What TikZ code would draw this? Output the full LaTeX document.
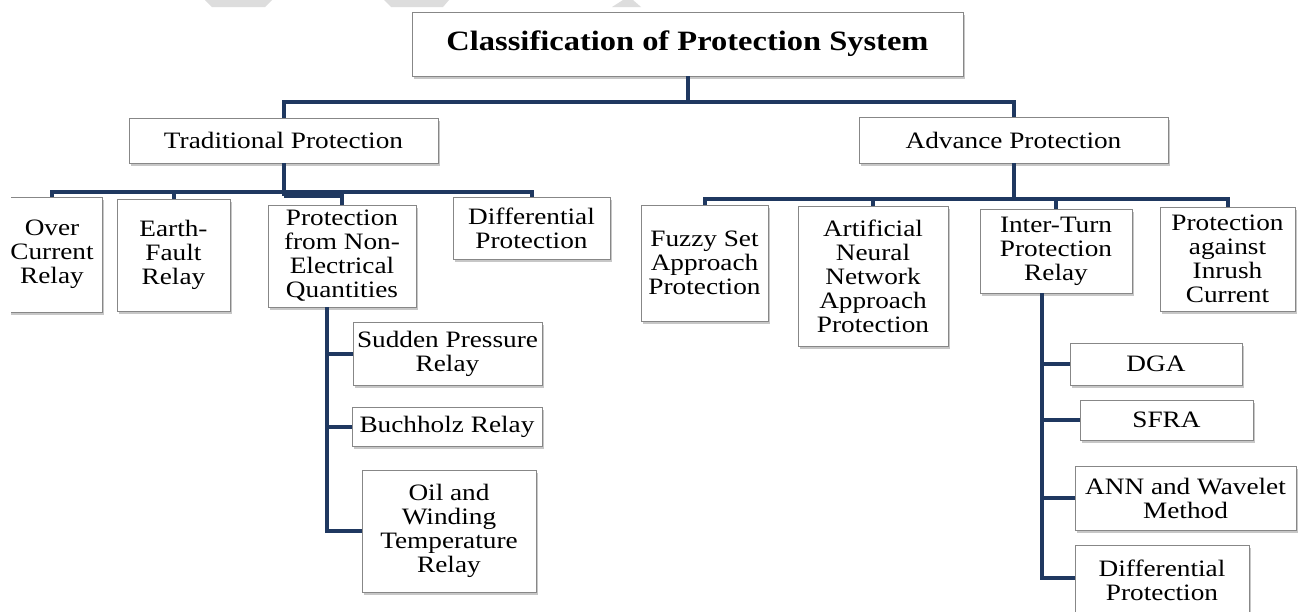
\documentclass[tikz,border=0pt]{standalone}
\usepackage{fontspec}
\setmainfont{Liberation Serif}[FakeStretch=1.16]
\usetikzlibrary{shadows}
\definecolor{busblue}{RGB}{31,56,96}
\definecolor{boxedge}{RGB}{135,135,135}
\definecolor{markgray}{RGB}{221,221,221}
\tikzset{
  box/.style={draw=boxedge, line width=0.8pt, fill=white, inner sep=0pt,
    align=center, font=\fontsize{23.5}{24}\selectfont,
    drop shadow={shadow xshift=2pt, shadow yshift=-2.5pt, fill=black!40, opacity=0.55}},
  titlebox/.style={box, font=\bfseries\fontsize{28}{30}\selectfont},
  conn/.style={draw=busblue, line width=4pt, line join=miter}
}
\begin{document}
\begin{tikzpicture}[x=1pt,y=-1pt]
\useasboundingbox (0,0) rectangle (1298,611);
\fill[white] (0,0) rectangle (1298,611);

% faint marks along the top edge
\fill[markgray] (205,0) -- (272,0) -- (265,7) -- (212,7) -- cycle;
\fill[markgray] (384,0) -- (449,0) -- (443,7) -- (391,7) -- cycle;
\fill[markgray] (623,0) -- (633,0) -- (641,7) -- (612,7) -- cycle;

% root and the two main groups
\node[titlebox, minimum width=551, minimum height=64] (title) at (687.5,44) {Classification of Protection System};
\node[box, minimum width=309, minimum height=45] (trad) at (283.5,140.5) {Traditional Protection};
\node[box, minimum width=309, minimum height=46] (adv) at (1013.5,140) {Advance Protection};

% traditional protection branch
\begin{scope}
  \clip (11,150) rectangle (200,340);
  \node[box, minimum width=100, minimum height=115] (oc) at (52,254.5) {Over\\Current\\Relay};
\end{scope}
\node[box, minimum width=113, minimum height=112] (ef) at (173.5,255) {Earth-\\Fault\\Relay};
\node[box, minimum width=148, minimum height=102] (nonel) at (342,256) {Protection\\from Non-\\Electrical\\Quantities};
\node[box, minimum width=157, minimum height=62] (diffl) at (531.5,228) {Differential\\Protection};

\node[box, minimum width=189, minimum height=63] (sudden) at (447.5,353.5) {Sudden Pressure\\Relay};
\node[box, minimum width=190, minimum height=39] (buch) at (447,426.5) {Buchholz Relay};
\node[box, minimum width=174, minimum height=122] (oil) at (449,531) {Oil and\\Winding\\Temperature\\Relay};

% advance protection branch
\node[box, minimum width=127, minimum height=116] (fuzzy) at (704.5,263) {Fuzzy Set\\Approach\\Protection};
\node[box, minimum width=150, minimum height=140] (ann) at (873,276) {Artificial\\Neural\\Network\\Approach\\Protection};
\node[box, minimum width=152, minimum height=84] (inter) at (1056,251) {Inter-Turn\\Protection\\Relay};
\node[box, minimum width=135, minimum height=104] (inrush) at (1227.5,259) {Protection\\against\\Inrush\\Current};

\node[box, minimum width=172, minimum height=42] (dga) at (1156,364) {DGA};
\node[box, minimum width=173, minimum height=40] (sfra) at (1166.5,420) {SFRA};
\node[box, minimum width=221, minimum height=64] (annw) at (1185.5,498) {ANN and Wavelet\\Method};
\node[box, minimum width=174, minimum height=70] (diffr) at (1162,580) {Differential\\Protection};

% connectors: root to main groups
\draw[conn] (title.south) -- (title.south |- 0,102);
\draw[conn] (trad.north) -- (trad.north |- 0,102) -- (adv.north |- 0,102) -- (adv.north);

% connectors: traditional protection
\draw[conn] (trad.south) -- (trad.south |- 0,196);
\draw[conn] (oc.north) -- (oc.north |- 0,192) -- (diffl.north |- 0,192) -- (diffl.north);
\draw[conn] (ef.north) -- (ef.north |- 0,192);
\draw[conn] (trad.south |- 0,196) -| (nonel.north);

\coordinate (ne) at ([xshift=-15pt]nonel.south);
\draw[conn] (ne) |- (oil.west);
\draw[conn] (ne |- sudden.west) -- (sudden.west);
\draw[conn] (ne |- buch.west) -- (buch.west);

% connectors: advance protection
\draw[conn] (adv.south) -- (adv.south |- 0,199);
\draw[conn] (fuzzy.north) -- (fuzzy.north |- 0,199) -- (inrush.north |- 0,199) -- (inrush.north);
\draw[conn] (ann.north) -- (ann.north |- 0,199);
\draw[conn] (inter.north) -- (inter.north |- 0,199);

\coordinate (it) at ([xshift=-14pt]inter.south);
\draw[conn] (it) |- ([yshift=2pt]diffr.west);
\draw[conn] (it |- dga.west) -- (dga.west);
\draw[conn] (it |- sfra.west) -- (sfra.west);
\draw[conn] (it |- annw.west) -- (annw.west);
\end{tikzpicture}
\end{document}
